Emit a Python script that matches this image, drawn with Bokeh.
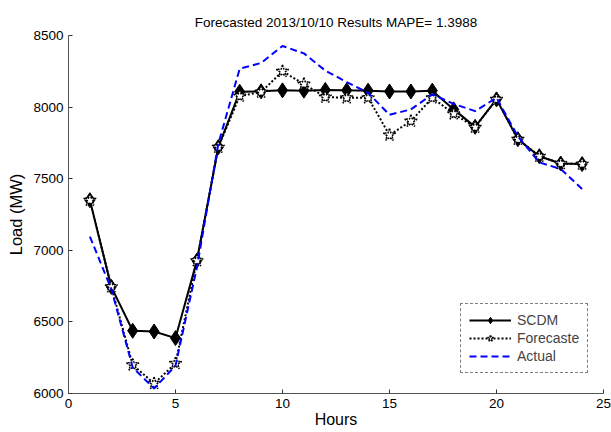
from bokeh.plotting import figure
from bokeh.models import Range1d, FixedTicker, Legend, LegendItem, ColumnDataSource
from bokeh.embed import file_html
from bokeh.resources import INLINE

hours = list(range(1, 25))
scdm = [7350, 6745, 6438, 6433, 6387, 6928, 7720, 8107, 8110, 8117, 8115, 8120,
        8117, 8115, 8109, 8109, 8115, 7984, 7862, 8054, 7776, 7657, 7606, 7602]
forecast = [7350, 6745, 6200, 6070, 6210, 6928, 7720, 8077, 8105, 8250, 8161, 8070,
            8065, 8065, 7805, 7902, 8065, 7953, 7860, 8054, 7776, 7657, 7606, 7602]
actual = [7096, 6730, 6182, 6035, 6194, 6880, 7743, 8268, 8308, 8427, 8375, 8255,
          8175, 8100, 7946, 7984, 8089, 8023, 7972, 8065, 7795, 7614, 7568, 7428]
x_ticks = [0, 5, 10, 15, 20, 25]
y_ticks = [6000, 6500, 7000, 7500, 8000, 8500]

title_text = "Forecasted 2013/10/10 Results MAPE= 1.3988"
x_label = "Hours"
y_label = "Load (MW)"
FONT = "Liberation Sans"

src = ColumnDataSource(dict(h=hours, s=scdm, f=forecast, a=actual))

p = figure(width=611, height=432, output_backend="svg", toolbar_location=None,
           x_range=Range1d(0, 25), y_range=Range1d(6000, 8500),
           min_border_left=68, min_border_right=8, min_border_top=35, min_border_bottom=39,
           title=title_text)
p.outline_line_color = None
p.grid.visible = False
p.background_fill_color = "white"
p.border_fill_color = "white"

p.title.align = "center"
p.title.text_font = FONT
p.title.text_font_size = "13.5px"
p.title.text_font_style = "normal"
p.title.text_color = "black"
p.title.standoff = 11

for ax in (p.xaxis[0], p.yaxis[0]):
    ax.axis_line_color = "#555555"
    ax.axis_line_width = 1
    ax.major_tick_line_color = "#333333"
    ax.major_tick_in = 4
    ax.major_tick_out = 0
    ax.minor_tick_line_color = None
    ax.major_label_text_font = FONT
    ax.major_label_text_font_size = "13.5px"
    ax.major_label_text_color = "black"
    ax.axis_label_text_font = FONT
    ax.axis_label_text_font_style = "normal"
    ax.axis_label_text_color = "black"

p.xaxis[0].ticker = FixedTicker(ticks=x_ticks)
p.yaxis[0].ticker = FixedTicker(ticks=y_ticks)
p.xaxis[0].axis_label = x_label
p.yaxis[0].axis_label = y_label
p.xaxis[0].axis_label_text_font_size = "16px"
p.yaxis[0].axis_label_text_font_size = "16.5px"
p.xaxis[0].major_label_standoff = 5
p.xaxis[0].axis_label_standoff = 0
p.yaxis[0].major_label_standoff = 5
p.yaxis[0].axis_label_standoff = 5

l1 = p.line("h", "s", source=src, line_color="black", line_width=2)
m1 = p.scatter("h", "s", source=src, marker="diamond", size=15,
               fill_color="black", line_color="black", line_width=1)
l2 = p.line("h", "f", source=src, line_color="black", line_width=2, line_dash="2 2")
m2 = p.scatter("h", "f", source=src, marker="star", size=13,
               fill_color="white", line_color="black", line_width=1.5, line_dash="2 1")
l3 = p.line("h", "a", source=src, line_color="#0000ff", line_width=2, line_dash="7 4")

legend = Legend(items=[
    LegendItem(label="SCDM", renderers=[l1, m1]),
    LegendItem(label="Forecaste", renderers=[l2, m2]),
    LegendItem(label="Actual", renderers=[l3]),
], location=(392, 20))
legend.border_line_color = "black"
legend.border_line_dash = "4 2"
legend.border_line_width = 1
legend.background_fill_color = "white"
legend.background_fill_alpha = 1
legend.label_text_font = FONT
legend.label_text_font_size = "14px"
legend.glyph_width = 42
legend.glyph_height = 16
legend.label_height = 16
legend.spacing = 2
legend.padding = 8
legend.margin = 0
legend.label_standoff = 6
p.add_layout(legend)

open("out.html", "w").write(file_html(p, INLINE))
